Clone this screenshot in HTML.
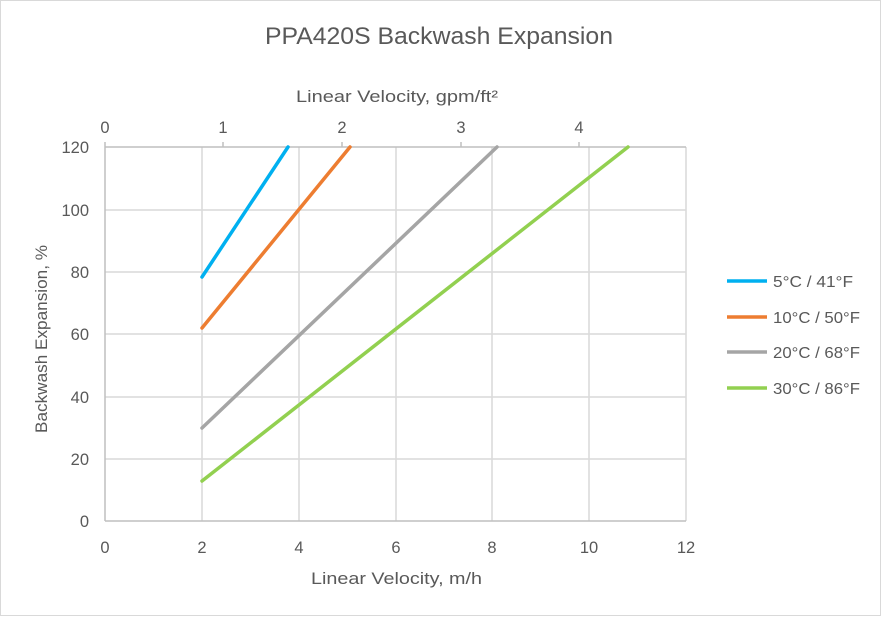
<!DOCTYPE html>
<html><head><style>body{margin:0;background:#fff}svg text{font-family:"Liberation Sans",sans-serif;fill:#595959}</style></head><body>
<svg width="881" height="616" xmlns="http://www.w3.org/2000/svg">
<rect x="0.5" y="0.5" width="880" height="615" fill="#fff" stroke="#d9d9d9"/>
<text x="265" y="44" font-size="24" textLength="348" lengthAdjust="spacingAndGlyphs">PPA420S Backwash Expansion</text>
<g stroke="#d9d9d9" stroke-width="1.5">
<line x1="105" y1="210" x2="686" y2="210"/><line x1="105" y1="272" x2="686" y2="272"/><line x1="105" y1="334" x2="686" y2="334"/><line x1="105" y1="397" x2="686" y2="397"/><line x1="105" y1="459" x2="686" y2="459"/>
<line x1="202" y1="147" x2="202" y2="521"/><line x1="299" y1="147" x2="299" y2="521"/><line x1="396" y1="147" x2="396" y2="521"/><line x1="492" y1="147" x2="492" y2="521"/><line x1="589" y1="147" x2="589" y2="521"/><line x1="686" y1="147" x2="686" y2="521"/>
</g>
<g stroke="#bfbfbf" stroke-width="1.5">
<line x1="105" y1="147" x2="686" y2="147"/><line x1="105" y1="521" x2="686" y2="521"/><line x1="105" y1="142" x2="105" y2="521"/>
<line x1="223" y1="142" x2="223" y2="147"/><line x1="342" y1="142" x2="342" y2="147"/><line x1="461" y1="142" x2="461" y2="147"/><line x1="579" y1="142" x2="579" y2="147"/>
</g>
<g font-size="16.5" text-anchor="end">
<text x="89" y="153">120</text><text x="89" y="216">100</text><text x="89" y="278">80</text><text x="89" y="340">60</text><text x="89" y="403">40</text><text x="89" y="465">20</text><text x="89" y="527">0</text>
</g>
<g font-size="16.5" text-anchor="middle">
<text x="105" y="553">0</text><text x="202" y="553">2</text><text x="299" y="553">4</text><text x="396" y="553">6</text><text x="492" y="553">8</text><text x="589" y="553">10</text><text x="686" y="553">12</text>
<text x="105" y="133">0</text><text x="223" y="133">1</text><text x="342" y="133">2</text><text x="461" y="133">3</text><text x="579" y="133">4</text>
</g>
<text x="311" y="584" font-size="17" textLength="171" lengthAdjust="spacingAndGlyphs">Linear Velocity, m/h</text>
<text x="296" y="102" font-size="17" textLength="202" lengthAdjust="spacingAndGlyphs">Linear Velocity, gpm/ft²</text>
<text transform="translate(47,433) rotate(-90)" font-size="17" textLength="188" lengthAdjust="spacingAndGlyphs">Backwash Expansion, %</text>
<g stroke-width="3.5" stroke-linecap="round" fill="none">
<line x1="202" y1="277" x2="288" y2="147" stroke="#00b0f0"/>
<line x1="202" y1="328" x2="350" y2="147" stroke="#ed7d31"/>
<line x1="202" y1="428" x2="497" y2="147" stroke="#a5a5a5"/>
<line x1="202" y1="481" x2="628" y2="147" stroke="#92d050"/>
</g>
<g font-size="16">
<line x1="727" y1="281" x2="767" y2="281" stroke="#00b0f0" stroke-width="3.5"/><text x="773" y="287" textLength="80" lengthAdjust="spacingAndGlyphs">5°C / 41°F</text>
<line x1="727" y1="317" x2="767" y2="317" stroke="#ed7d31" stroke-width="3.5"/><text x="773" y="323" textLength="87" lengthAdjust="spacingAndGlyphs">10°C / 50°F</text>
<line x1="727" y1="352" x2="767" y2="352" stroke="#a5a5a5" stroke-width="3.5"/><text x="773" y="358" textLength="87" lengthAdjust="spacingAndGlyphs">20°C / 68°F</text>
<line x1="727" y1="388" x2="767" y2="388" stroke="#92d050" stroke-width="3.5"/><text x="773" y="394" textLength="87" lengthAdjust="spacingAndGlyphs">30°C / 86°F</text>
</g>
</svg>
</body></html>
